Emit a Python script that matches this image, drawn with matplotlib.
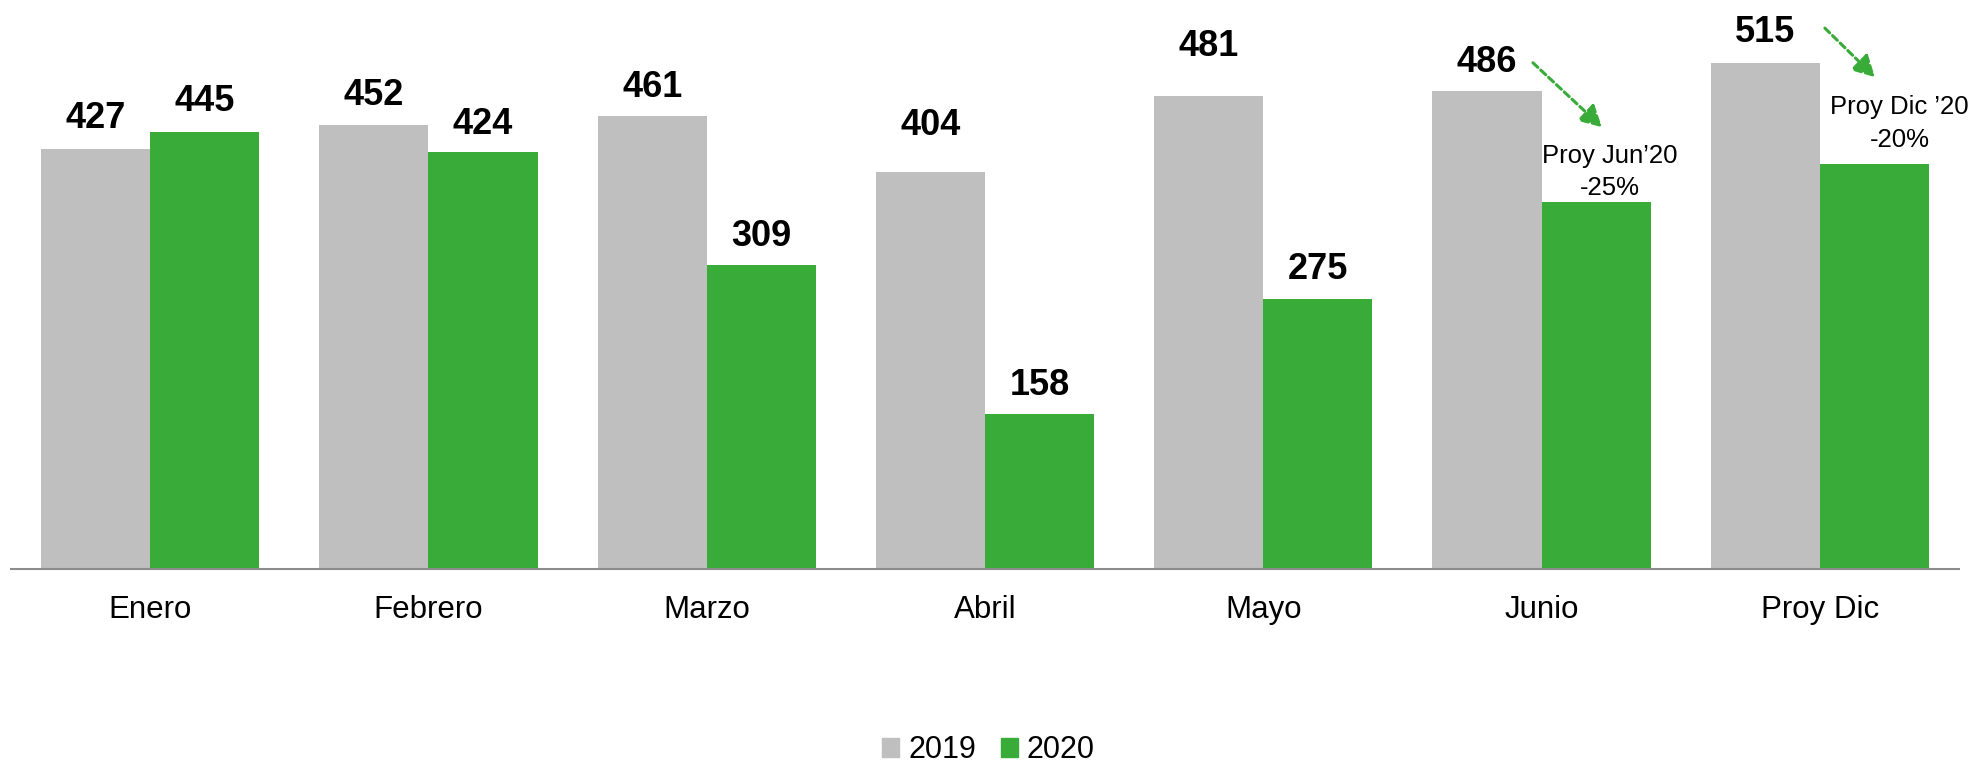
import numpy as np
import matplotlib
matplotlib.use("Agg")
import matplotlib.pyplot as plt
from matplotlib.patches import Patch

plt.rcParams['font.family'] = ['Liberation Sans', 'DejaVu Sans']

meses = ["Enero", "Febrero", "Marzo", "Abril", "Mayo", "Junio", "Proy Dic"]
v2019 = [427, 452, 461, 404, 481, 486, 515]
v2020 = [445, 424, 309, 158, 275, 373, 412]
# distancia de cada etiqueta sobre su barra (px)
off2019 = [21, 20, 19, 37, 40, 19, 21]
off2020 = [21, 18, 19, 19, 20, None, None]

gris = "#BFBFBF"
verde = "#39AB39"

fig = plt.figure(figsize=(19.77, 7.64), dpi=100)
ax = fig.add_axes([11 / 1977, 195 / 764, 1948 / 1977, 569 / 764])

x = np.arange(len(meses))
w = 0.392
ax.bar(x - w / 2, v2019, w, color=gris)
ax.bar(x + w / 2, v2020, w, color=verde)

for i in range(len(meses)):
    ax.annotate(str(v2019[i]), (x[i] - w / 2, v2019[i]), xytext=(0, off2019[i]),
                textcoords="offset pixels", ha="center", va="baseline",
                fontsize=26, fontweight="bold")
    if off2020[i] is not None:
        ax.annotate(str(v2020[i]), (x[i] + w / 2, v2020[i]), xytext=(0, off2020[i]),
                    textcoords="offset pixels", ha="center", va="baseline",
                    fontsize=26, fontweight="bold")

# proyecciones
ax.annotate("Proy Jun’20\n-25%", (x[5] + w / 2, v2020[5]), xytext=(14, 7),
            textcoords="offset pixels", ha="center", va="baseline",
            fontsize=18.5, linespacing=1.47)
ax.annotate("Proy Dic ’20\n-20%", (x[6] + w / 2, v2020[6]), xytext=(25, 17),
            textcoords="offset pixels", ha="center", va="baseline",
            fontsize=18.5, linespacing=1.47)
flecha = dict(arrowstyle="-|>,head_length=1.3,head_width=0.7", color=verde,
              lw=2.2, linestyle=(0, (2.2, 1.3)), shrinkA=0, shrinkB=0)
ax.annotate("", xy=(5.217, 449.6), xytext=(4.969, 515.1), arrowprops=flecha)
ax.annotate("", xy=(6.198, 500.5), xytext=(6.018, 550.4), arrowprops=flecha)

ax.set_xlim(-0.5, len(meses) - 0.5)
ax.set_ylim(0, 579)
ax.set_xticks(x)
ax.set_xticklabels(meses, fontsize=22.5)
ax.tick_params(axis="x", length=0, pad=18.5)
ax.set_yticks([])
for s in ["top", "right", "left"]:
    ax.spines[s].set_visible(False)
ax.spines["bottom"].set_color("#8C8C8C")
ax.spines["bottom"].set_linewidth(1.5)

handles = [Patch(color=gris, label="2019"), Patch(color=verde, label="2020")]
fig.legend(handles=handles, loc="center", bbox_to_anchor=(0.5, 1 - 750 / 764),
           ncol=2, frameon=False, fontsize=22, handlelength=0.56, handleheight=0.56,
           handletextpad=0.3, columnspacing=0.8)

fig.savefig("out.png", dpi=100)
